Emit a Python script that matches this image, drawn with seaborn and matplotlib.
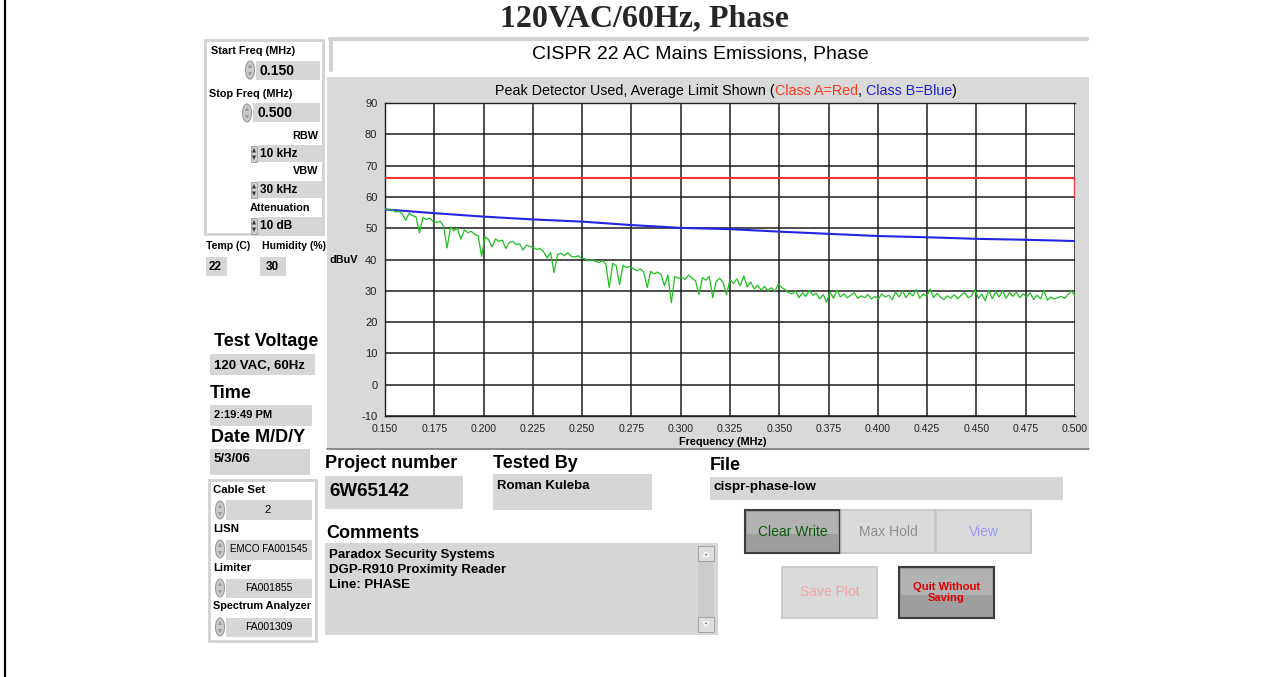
import numpy as np
import pandas as pd
import matplotlib
matplotlib.use("Agg")
import matplotlib.pyplot as plt
from matplotlib.patches import Rectangle, Ellipse, Polygon
from matplotlib.ticker import MultipleLocator, FixedLocator, FixedFormatter
import seaborn as sns

# ---------------- data ----------------
green_db = [
    56.2, 55.8, 56.0, 55.2, 55.4, 54.6, 52.5, 54.8, 54.0, 53.6, 48.5, 53.4, 52.8, 53.2, 52.0,
    51.8, 52.2, 50.6, 43.7, 50.4, 49.2, 50.0, 46.5, 49.4, 48.6, 49.0, 48.0, 47.6, 41.0,
    47.2, 46.4, 44.0, 46.6, 45.8, 46.2, 43.5, 45.4, 45.8, 44.8, 45.0, 43.0, 44.6, 44.2,
    43.8, 43.2, 43.6, 42.4, 40.5, 42.2, 35.8, 41.6, 42.0, 41.2, 42.2, 41.0, 40.8, 41.2, 40.4,
    40.2, 39.6, 40.0, 39.4, 39.0, 39.6, 38.6, 31.0, 38.8, 38.0, 32.0, 38.2, 37.4, 37.8,
    37.0, 36.4, 37.0, 36.0, 31.0, 36.2, 35.4, 36.0, 35.2, 31.6, 35.0, 26.2, 34.6, 34.0,
    34.4, 33.6, 35.0, 34.0, 33.2, 28.8, 34.2, 33.4, 34.6, 27.8, 33.0, 34.0, 32.6, 28.8, 33.6,
    32.4, 33.8, 31.6, 34.8, 31.2, 32.8, 30.6, 31.8, 30.2, 31.4, 30.0, 31.0, 29.8, 32.2,
    31.0, 30.4, 29.4, 29.0, 30.0, 27.8, 29.4, 28.2, 30.2, 28.6, 29.2, 27.4, 28.8, 26.4,
    29.6, 27.6, 30.2, 28.0, 29.0, 27.8, 28.6, 29.4, 27.6, 28.4, 27.8, 28.8, 27.4, 28.2,
    27.4, 29.0, 28.0, 28.6, 27.2, 29.6, 28.0, 30.0, 27.8, 29.4, 28.4, 30.4, 27.6, 29.0, 28.2,
    30.6, 27.8, 29.2, 28.0, 27.2, 28.4, 27.6, 28.8, 27.4, 28.6, 29.4, 27.8, 28.4, 30.4,
    27.6, 29.0, 26.8, 30.2, 27.4, 29.8, 28.0, 30.0, 27.6, 29.4, 28.2, 29.6, 27.8, 29.0,
    28.0, 29.4, 27.2, 28.6, 27.4, 30.2, 27.0, 28.0, 27.4, 27.8, 28.2, 27.6, 28.8, 30.0, 28.4,
]
freq_start, freq_stop = 0.150, 0.500

blue_freq = [0.150, 0.175, 0.200, 0.225, 0.250, 0.275, 0.300, 0.325,
             0.350, 0.375, 0.400, 0.425, 0.450, 0.475, 0.500]
blue_db = [56.0, 54.8, 53.7, 52.8, 52.1, 51.0, 50.1, 49.7,
           48.9, 48.2, 47.5, 47.1, 46.6, 46.3, 45.9]

red_freq = [0.150, 0.500, 0.500]
red_db = [66.0, 66.0, 60.0]

x_ticks = [0.150, 0.175, 0.200, 0.225, 0.250, 0.275, 0.300,
           0.325, 0.350, 0.375, 0.400, 0.425, 0.450, 0.475, 0.500]
x_tick_labels = ["%.3f" % v for v in x_ticks]
y_ticks = [-10, 0, 10, 20, 30, 40, 50, 60, 70, 80, 90]

# ---------------- figure ----------------
sns.set_style("white")
plt.rcParams['font.family'] = ['Liberation Sans', 'DejaVu Sans']
plt.rcParams['axes.unicode_minus'] = False

W, H = 1287, 677
fig = plt.figure(figsize=(W / 100, H / 100), dpi=100)
fig.patch.set_facecolor("white")

bg = fig.add_axes([0, 0, 1, 1], zorder=0)
bg.set_xlim(0, W)
bg.set_ylim(H, 0)
bg.axis("off")

GRAY = "#d6d6d6"
FRAME = "#d2d2d2"
BIG = 13


def box(x0, y0, x1, y1, fc=GRAY, ec=None, lw=0, z=1):
    bg.add_patch(Rectangle((x0, y0), x1 - x0, y1 - y0, facecolor=fc,
                           edgecolor=ec if ec else fc, linewidth=lw, zorder=z))


def frame(x0, y0, x1, y1, color=FRAME, lw=2):
    bg.add_patch(Rectangle((x0, y0), x1 - x0, y1 - y0, facecolor="none",
                           edgecolor=color, linewidth=lw, zorder=1))


def txt(x, y, s, size=7.8, weight="bold", ha="left", color="black", **kw):
    return bg.text(x, y, s, fontsize=size, fontweight=weight, ha=ha, va="center",
                   color=color, zorder=5, **kw)


def spinner(cx, cy):
    bg.add_patch(Ellipse((cx, cy), 9, 18, facecolor="#cacaca", edgecolor="#9a9a9a",
                         linewidth=0.8, zorder=3))
    bg.add_patch(Polygon([[cx - 2, cy - 2], [cx + 2, cy - 2], [cx, cy - 6]],
                         facecolor="#9a9a9a", edgecolor="none", zorder=4))
    bg.add_patch(Polygon([[cx - 2, cy + 2], [cx + 2, cy + 2], [cx, cy + 6]],
                         facecolor="#9a9a9a", edgecolor="none", zorder=4))


def updown(cx, cy):
    bg.add_patch(Rectangle((cx - 3, cy - 8), 6, 16, facecolor="#cfcfcf",
                           edgecolor="#9a9a9a", linewidth=0.6, zorder=3))
    bg.add_patch(Polygon([[cx - 2, cy - 1.5], [cx + 2, cy - 1.5], [cx, cy - 6]],
                         facecolor="#333333", edgecolor="none", zorder=4))
    bg.add_patch(Polygon([[cx - 2, cy + 1.5], [cx + 2, cy + 1.5], [cx, cy + 6]],
                         facecolor="#333333", edgecolor="none", zorder=4))


# outer left border line
bg.plot([5, 5], [0, H], color="black", lw=1.6, zorder=2)

# main title
bg.text(W / 2 + 1, 19, "120VAC/60Hz, Phase", fontsize=23, fontweight="bold",
        family=["Liberation Serif", "DejaVu Serif"], ha="center", va="center", zorder=5)

# CISPR header
bg.plot([330, 1087], [39, 39], color=FRAME, lw=3, zorder=1)
bg.plot([331, 331], [39, 70], color=FRAME, lw=3, zorder=1)
txt(700, 54, "CISPR 22 AC Mains Emissions, Phase", size=14, weight="normal", ha="center")

# gray panel behind plot
box(327, 77, 1089, 449, fc="#d9d9d9", z=0.5)
bg.plot([327, 1089], [449, 449], color="#7a7a7a", lw=1.2, zorder=1)

# plot title with coloured parts
fig.canvas.draw()
renderer = fig.canvas.get_renderer()
pieces = [("Peak Detector Used, Average Limit Shown (", "black"),
          ("Class A=Red", "#ff3b1f"), (", ", "black"),
          ("Class B=Blue", "#2020d8"), (")", "black")]
objs = []
for s, c in pieces:
    objs.append(txt(0, 91, s, size=10.3, weight="normal", color=c))
widths = [o.get_window_extent(renderer).width for o in objs]
xcur = 726 - sum(widths) / 2
for o, w in zip(objs, widths):
    o.set_x(xcur)
    xcur += w

# left settings group
frame(205, 40, 323, 234)
txt(211, 51, "Start Freq (MHz)")
box(256, 61, 320, 80)
spinner(250, 70)
txt(260, 71, "0.150", size=10)
txt(209, 94, "Stop Freq (MHz)")
box(253, 103, 320, 122)
spinner(247, 113)
txt(257, 113, "0.500", size=10)
txt(318, 136, "RBW", ha="right")
box(258, 145, 322, 162)
updown(254, 154)
txt(260, 154, "10 kHz", size=8.5)
txt(318, 171, "VBW", ha="right")
box(258, 181, 322, 198)
updown(254, 190)
txt(260, 190, "30 kHz", size=8.5)
txt(250, 208, "Attenuation")
box(258, 217, 322, 234)
updown(254, 226)
txt(260, 226, "10 dB", size=8.5)

txt(206, 246, "Temp (C)", size=7.6)
txt(262, 246, "Humidity (%)", size=7.6)
box(206, 257, 227, 276)
txt(209, 267, "22", size=8.5)
box(260, 257, 286, 276)
txt(266, 267, "30", size=8.5)

txt(214, 342, "Test Voltage", size=BIG)
box(210, 354, 315, 375)
txt(214, 366, "120 VAC, 60Hz", size=9.5)
txt(210, 394, "Time", size=BIG)
box(210, 405, 312, 426)
txt(214, 415, "2:19:49 PM", size=8)
txt(211, 437, "Date M/D/Y", size=BIG)
box(210, 449, 310, 475)
txt(214, 459, "5/3/06", size=9.5)

# cable / equipment group
frame(209, 480, 316, 641)
txt(213, 490, "Cable Set", size=8.2)
box(226, 500, 312, 520)
spinner(220, 510)
txt(268, 510, "2", size=8, weight="normal", ha="center")
txt(213, 529, "LISN", size=8.2)
box(226, 540, 312, 560)
spinner(220, 549)
txt(269, 549, "EMCO FA001545", size=7.1, weight="normal", ha="center")
txt(213, 568, "Limiter", size=8.2)
box(226, 579, 312, 598)
spinner(220, 588)
txt(269, 588, "FA001855", size=7.5, weight="normal", ha="center")
txt(213, 606, "Spectrum Analyzer", size=7.8)
box(226, 618, 312, 637)
spinner(220, 627)
txt(269, 627, "FA001309", size=7.5, weight="normal", ha="center")

# project info
txt(325, 464, "Project number", size=BIG)
box(325, 476, 463, 509)
txt(329, 491, "6W65142", size=13.5)
txt(493, 464, "Tested By", size=BIG)
box(493, 474, 652, 510)
txt(497, 486, "Roman Kuleba", size=9.5)
txt(326, 534, "Comments", size=BIG)
box(325, 543, 718, 635)
for i, line in enumerate(["Paradox Security Systems", "DGP-R910 Proximity Reader", "Line: PHASE"]):
    txt(329, 555 + 15 * i, line, size=9.5)
box(698, 546, 714, 632, fc="#cbcbcb")
box(698, 546, 714, 561, fc="#dedede", ec="#9a9a9a", lw=0.6)
box(698, 617, 714, 632, fc="#dedede", ec="#9a9a9a", lw=0.6)
bg.add_patch(Polygon([[703, 556], [709, 556], [706, 552]], facecolor="#777777", zorder=4))
bg.add_patch(Polygon([[703, 622], [709, 622], [706, 626]], facecolor="#777777", zorder=4))
txt(710, 465, "File", size=BIG)
box(710, 477, 1063, 500)
txt(714, 487, "cispr-phase-low", size=9.7)


# buttons
def button(x0, y0, x1, y1, label, color, pressed=False, size=10, weight="normal"):
    if pressed:
        box(x0, y0, x1, y1, fc="#9e9e9e", ec="#3c3c3c", lw=1.5, z=1)
        box(x0 + 2, y0 + 2, x1 - 2, y0 + (y1 - y0) * 0.55, fc="#b2b2b2", z=1.5)
    else:
        box(x0, y0, x1, y1, fc="#dadada", ec="#c4c4c4", lw=1.2, z=1)
    txt((x0 + x1) / 2, (y0 + y1) / 2, label, size=size, weight=weight,
        ha="center", color=color, multialignment="center", linespacing=1.2)


button(745, 510, 840, 553, "Clear Write", "#0a5a0a", pressed=True)
button(841, 510, 935, 553, "Max Hold", "#8e8e8e")
button(936, 510, 1031, 553, "View", "#9c9cf5")
button(782, 567, 877, 618, "Save Plot", "#f0a4a4")
button(899, 567, 994, 618, "Quit Without\nSaving", "#e00000", pressed=True,
       size=8, weight="bold")

# ---------------- the graph ----------------
ax = fig.add_axes([385 / W, 1 - 416 / H, (1075 - 385) / W, (416 - 103) / H], zorder=2)
ax.set_facecolor("white")

green_freq = np.linspace(freq_start, freq_stop, len(green_db))
df_green = pd.DataFrame({"freq": green_freq, "db": green_db})
df_blue = pd.DataFrame({"freq": blue_freq, "db": blue_db})
df_red = pd.DataFrame({"freq": red_freq, "db": red_db})

sns.lineplot(data=df_red, x="freq", y="db", ax=ax, color="#ff3030", lw=1.5,
             sort=False, estimator=None, zorder=3)
sns.lineplot(data=df_blue, x="freq", y="db", ax=ax, color="#2424e0", lw=1.5,
             sort=False, estimator=None, zorder=4)
sns.lineplot(data=df_green, x="freq", y="db", ax=ax, color="#1fbf1f", lw=0.9,
             sort=False, estimator=None, zorder=5)

ax.set_xlim(freq_start, freq_stop)
ax.set_ylim(-10, 90)
ax.xaxis.set_major_locator(FixedLocator(x_ticks))
ax.xaxis.set_major_formatter(FixedFormatter(x_tick_labels))
ax.yaxis.set_major_locator(FixedLocator(y_ticks))
ax.xaxis.set_minor_locator(MultipleLocator(0.00625))
ax.yaxis.set_minor_locator(MultipleLocator(2))
ax.tick_params(axis="both", which="major", direction="out", length=4, width=0.8,
               colors="black", pad=1.5)
ax.tick_params(axis="x", which="major", labelsize=7.6, pad=2)
ax.tick_params(axis="y", which="major", labelsize=8)
ax.tick_params(axis="both", which="minor", direction="out", length=2.5, width=0.8,
               colors="black")
for lab in ax.get_xticklabels() + ax.get_yticklabels():
    lab.set_color("#222222")
ax.grid(True, which="major", color="#1e1e1e", lw=1.1)
ax.set_axisbelow(True)
ax.spines["right"].set_visible(False)
for side in ["left", "bottom", "top"]:
    ax.spines[side].set_color("#1e1e1e")
    ax.spines[side].set_linewidth(1.0)
ax.set_xlabel("")
ax.set_ylabel("")

txt(330, 260, "dBuV", size=7.8)
txt(723, 442, "Frequency (MHz)", size=7.8, ha="center")

fig.savefig("out.png", dpi=100, facecolor="white")
